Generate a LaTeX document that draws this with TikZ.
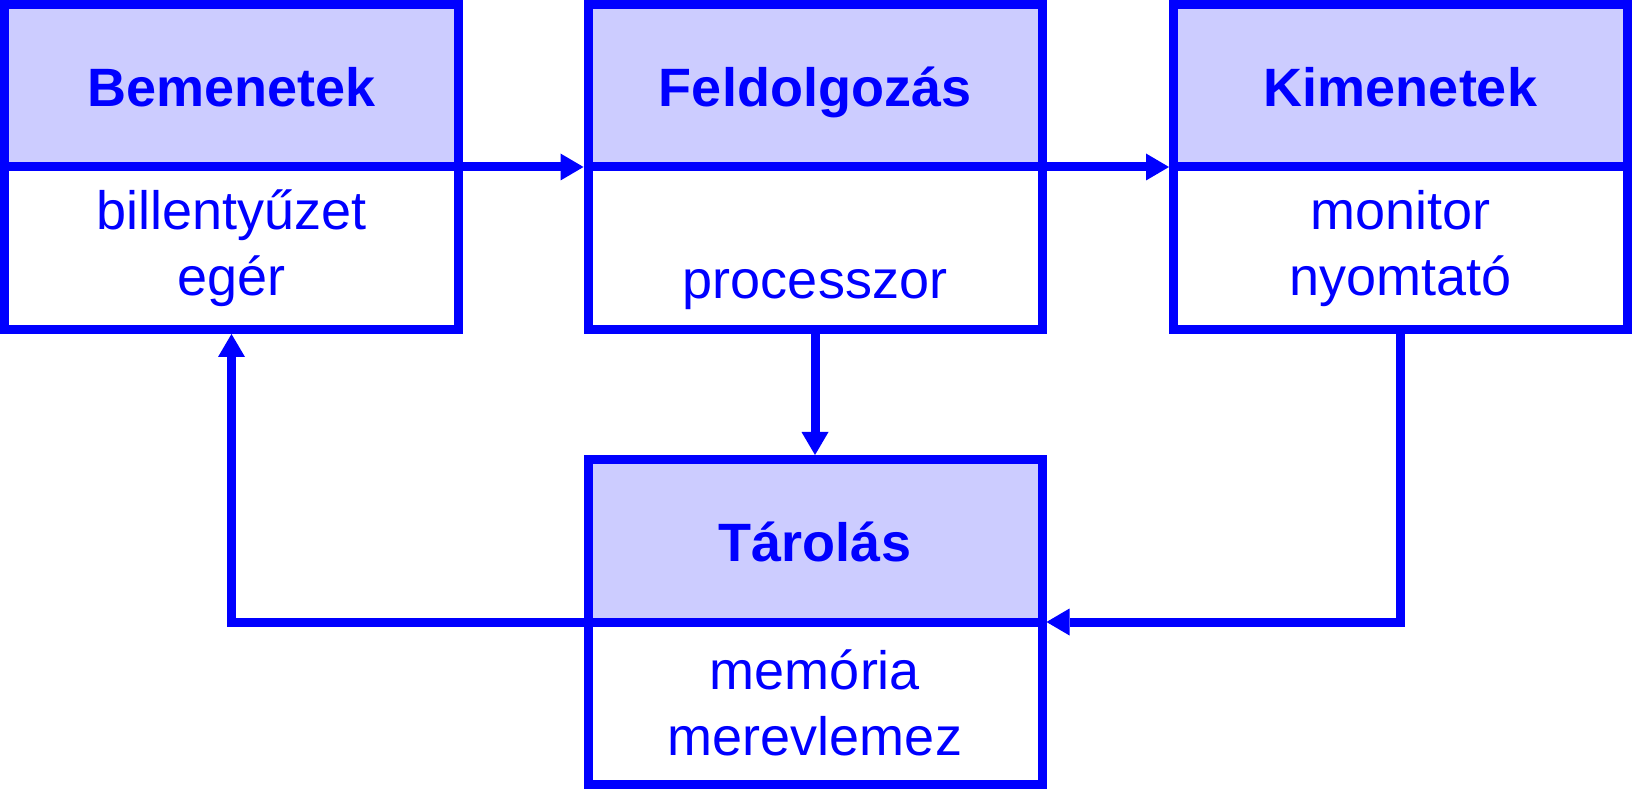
\documentclass[tikz,border=0pt]{standalone}
\usepackage{fontspec}
\setmainfont{Liberation Sans}
\usetikzlibrary{arrows.meta}

\definecolor{diagblue}{RGB}{0,0,255}
\definecolor{headfill}{RGB}{204,204,255}

\tikzset{
  box/.style={draw=diagblue, line width=9pt, minimum width=454pt, minimum height=162.5pt,
    inner sep=0pt, outer sep=0pt, align=center, text=diagblue},
  head/.style={box, fill=headfill, font=\bfseries\fontsize{54}{66}\selectfont,
    text height=42pt, text depth=0pt},
  body/.style={box, fill=white, font=\fontsize{54}{66}\selectfont},
  conn/.style={draw=diagblue, line width=9pt,
    -{Triangle[length=23pt,width=27pt,line width=0pt]}, shorten >=4.5pt}
}

\begin{document}
\begin{tikzpicture}[x=1pt,y=1pt]
  \useasboundingbox (0,0) rectangle (1632,801);

  \node[head] (bemHead) at (231.5,715.25) {Bemenetek};
  \node[body] (bemBody) at (231.5,552.75) {billentyűzet\\egér};

  \node[head] (felHead) at (815,715.25) {Feldolgozás};
  \node[body] (felBody) at (815,552.75) {\strut\\processzor};

  \node[head] (kimHead) at (1400.5,715.25) {Kimenetek};
  \node[body] (kimBody) at (1400.5,552.75) {monitor\\nyomtató};

  \node[head] (tarHead) at (815,260.25) {Tárolás};
  \node[body] (tarBody) at (815,97.75) {memória\\merevlemez};

  \draw[conn] (bemHead.south east) -- (felHead.south west);
  \draw[conn] (felHead.south east) -- (kimHead.south west);
  \draw[conn] (felBody.south) -- (tarHead.north);
  \draw[conn] (kimBody.south) |- (tarHead.south east);
  \draw[conn] (tarHead.south west) -| (bemBody.south);

\end{tikzpicture}
\end{document}
